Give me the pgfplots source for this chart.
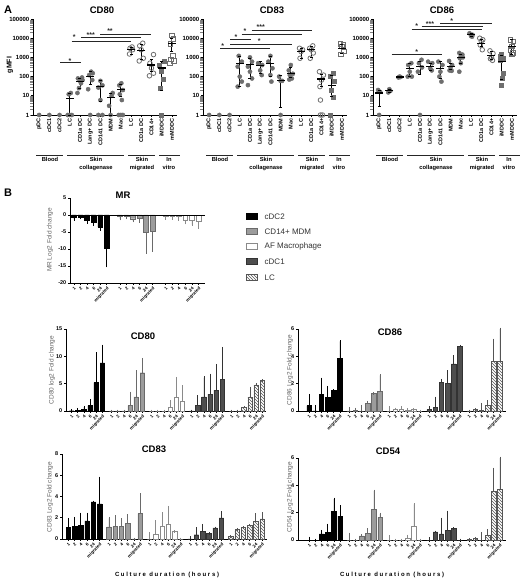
\documentclass[border=0pt]{standalone}
\usepackage{fontspec}
\setmainfont{Liberation Sans}
\usepackage{pgfplots}
\pgfplotsset{compat=1.18}
\usepackage{pgfplotstable}
\usetikzlibrary{patterns}

\definecolor{ptgray}{HTML}{6E6E6E}
\definecolor{mdmfill}{HTML}{9C9C9C}
\definecolor{mdmdraw}{HTML}{6A6A6A}
\definecolor{afdraw}{HTML}{8A8A8A}
\definecolor{cdconefill}{HTML}{4E4E4E}
\definecolor{lcdraw}{HTML}{555555}

\newcommand{\fTitle}{\fontsize{9.5}{11}\selectfont\bfseries}
\newcommand{\fCat}{\fontsize{5.5}{6}\selectfont\bfseries}
\newcommand{\fAy}{\fontsize{6}{7}\selectfont\bfseries}
\newcommand{\fGrp}{\fontsize{5.8}{8}\selectfont\bfseries}
\newcommand{\fBx}{\fontsize{4.4}{5}\selectfont\bfseries}
\newcommand{\fBy}{\fontsize{5.5}{6}\selectfont\bfseries}
\newcommand{\fYl}{\fontsize{6.5}{7}\selectfont}
\newcommand{\fLeg}{\fontsize{8}{9}\selectfont}
\newcommand{\fStar}{\fontsize{7}{8}\selectfont\bfseries}

% ---------- Panel A: mean per category ----------
\pgfplotstableread{
x m lo hi
3 7.4 1 13
4 54 25 85
5 100 40 180
6 30 5 60
7 8 1 14
8 22 9 40
9 2500 1500 3500
10 2200 800 5000
11 400 180 800
12 280 18 620
13 5500 2000 10000
}\meanAeighty

\pgfplotstableread{
x m lo hi
3 490 30 1100
4 450 80 850
5 380 140 650
6 500 100 1100
7 60 2.5 110
8 150 90 300
9 2000 900 3000
10 2500 1000 3800
11 75 30 130
12 36 9 120
13 3000 1700 5000
}\meanAeightythree

\pgfplotstableread{
x m lo hi
0 14 2.7 20
1 18 15 22
2 95 90 100
3 270 100 480
4 330 130 600
5 330 220 500
6 270 80 600
7 350 230 500
8 1000 500 1500
9 15000 12000 18000
10 5400 3700 9000
11 1200 750 2000
12 600 70 1300
13 3700 1400 8800
}\meanAeightysix

% ---------- Panel B: bar value v and error end t per group ----------
\pgfplotstableread{
i v0 t0 v1 t1 v2 t2
0 -0.6 -1.3 -0.3 -1.2 -0.3 -1.0
1 -0.6 -0.9 -0.3 -0.9 -0.3 -1.0
2 -1.6 -2.2 -1.1 -1.8 -0.5 -1.3
3 -2.2 -2.9 -0.9 -1.9 -1.4 -2.4
4 -3.5 -4.3 -5.0 -11.0 -1.6 -2.8
5 -9.8 -15.0 -4.8 -10.5 -1.8 -3.7
}\tMR

\pgfplotstableread{
i v0 t0 v1 t1 v2 t2 v3 t3 v4 t4
0 0.05 0.05 0 0 0 0 0 0 0 0
1 0.15 0.35 0 0 0 0 1.0 2.6 0 0
2 0.3 0.7 0 0 0 0 2.6 6.1 0.7 0.7
3 1.0 2.0 1.0 3.3 0.7 1.8 3.1 6.6 2.6 4.2
4 5.2 10.5 2.6 7.2 2.6 6.0 3.8 8.4 4.8 4.8
5 8.8 11.9 7.0 9.5 1.8 4.5 5.8 11.5 5.6 5.6
}\tBeighty

\pgfplotstableread{
i v0 t0 v1 t1 v2 t2 v3 t3 v4 t4
0 0.4 1.15 0 0.2 0 0.25 0.1 0.25 0 0
1 0 0.35 0.05 0.15 0.1 0.15 0.25 0.95 0.1 0.1
2 1.2 2.35 0 0.35 0.1 0.25 2.1 2.25 0.05 0.5
3 1.0 1.75 0.55 0.65 0.05 0.1 2.0 2.9 0.4 0.7
4 1.5 1.5 1.3 1.3 0.12 0.12 3.45 4.0 3.65 5.2
5 3.85 5.1 1.45 2.6 0 0 4.75 4.75 3.65 6.0
}\tBeightysix

\pgfplotstableread{
i v0 t0 v1 t1 v2 t2 v3 t3 v4 t4
0 1.1 1.85 1.15 1.95 0 0.5 0 0.15 0.25 0.25
1 1.2 1.95 1.2 2.1 0.45 1.65 0.4 1.0 0.9 0.9
2 1.3 2.35 1.2 1.85 1.2 2.4 0.7 1.3 1.1 1.1
3 1.7 2.35 1.5 2.2 1.4 3.0 0.5 0.5 1.3 1.3
4 3.5 3.5 0 0 0.7 0.7 1.05 1.05 1.65 2.3
5 3.3 5.75 2.4 4.2 0 0 2.0 2.5 1.9 2.4
}\tBeightythree

\pgfplotstableread{
i v0 t0 v1 t1 v2 t2 v3 t3 v4 t4
0 0 0.15 0 0.45 0 0.25 0 0.1 0.05 0.05
1 0 0 0 0 0 0 0.6 0.6 0.1 0.1
2 0.45 0.65 0.3 0.35 0 0 0.45 1.55 0 0.5
3 0.55 1.1 0.5 0.75 0.1 0.3 0.7 2.05 0.35 0.7
4 2.1 3.0 2.25 3.6 1.0 2.6 0.85 0.85 3.6 5.2
5 1.75 2.45 1.65 1.9 0 0 0 0 3.7 6.0
}\tBfiftyfour

\pgfplotsset{
  myFC/.style={only marks, mark=*, mark size=2.1pt, mark options={fill=ptgray, draw=ptgray}},
  myOC/.style={only marks, mark=o, mark size=2.3pt, mark options={draw=ptgray, line width=0.8pt, fill=white}},
  myFS/.style={only marks, mark=square*, mark size=2pt, mark options={fill=ptgray, draw=ptgray}},
  myOS/.style={only marks, mark=square, mark size=2.2pt, mark options={draw=ptgray, line width=0.8pt}},
  myBar/.style={ybar, bar width=0.72, bar shift=0pt, line width=0.4pt,
    error bars/y explicit,
    error bars/error bar style={line width=0.6pt, #1},
    error bars/error mark options={mark size=1.3pt, line width=0.6pt, #1}},
  barCdcTwo/.style={myBar=black, fill=black, draw=black},
  barMdm/.style={myBar=mdmdraw, fill=mdmfill, draw=mdmdraw},
  barAf/.style={myBar=afdraw, fill=white, draw=afdraw},
  barCdcOne/.style={myBar=black!80, fill=cdconefill, draw=black!80},
  barLc/.style={myBar=lcdraw, pattern=north west lines, pattern color=lcdraw, draw=lcdraw},
}

\tikzset{grplab/.style={anchor=north, align=center, font=\fGrp, inner sep=0pt}}

\newcommand{\groupsA}[1]{%
  \begin{scope}[xshift=#1pt]
  \draw[black!85, line width=0.5pt] (36,424) -- (63,424);
  \draw[black!85, line width=0.5pt] (67,424) -- (124,424);
  \draw[black!85, line width=0.5pt] (128,424) -- (155,424);
  \draw[black!85, line width=0.5pt] (159,424) -- (180,424);
  \node[grplab] at (50,421.5) {Blood};
  \node[grplab] at (96,421.5) {Skin\\collagenase};
  \node[grplab] at (142,421.5) {Skin\\migrated};
  \node[grplab] at (169,421.5) {In\\vitro};
  \end{scope}
}

\newcommand{\sig}[6]{%
  \draw[black!85, line width=0.6pt] (#1,579-#3) -- (#2,579-#3);
  \node[anchor=base, font=\fStar, inner sep=0pt, text=black!85] at (#4,575-#5) {#6};
}

\begin{document}
\begin{tikzpicture}
\path[use as bounding box] (0,0) rectangle (521pt,579pt);

% ===================== Panel A : CD80 =====================
\begin{axis}[scale only axis, anchor=south west, at={(33pt,464pt)}, width=144pt, height=96pt,
  axis lines*=left, tick align=outside, clip=false,
  axis line style={line width=0.6pt}, major tick style={line width=0.6pt, black}, major tick length=2pt,
  ymode=log, ymin=1, ymax=100000, xmin=-0.6, xmax=13.5,
  ytick={1,10,100,1000,10000,100000}, yticklabels={1,10,100,1000,10000,100000},
  minor ytick={},
  xtick={0,1,2,3,4,5,6,7,8,9,10,11,12,13},
  xticklabels={pDC,cDC1,cDC2,LC,CD1a DC,Lang+ DC,CD141 DC,MDM,Mac,LC,CD1a DC,CD14+,iMDDC,mMDDC},
  x tick label style={rotate=90, anchor=east, font=\fCat, inner sep=1.5pt},
  y tick label style={font=\fAy, inner sep=1.5pt}]
\addplot[myFC] coordinates {(0,1) (1,1) (2,1)
 (2.8,1) (3,1) (3.2,1) (2.9,12) (3.1,14)
 (3.75,14) (3.9,25) (4.1,45) (4.25,66) (3.8,80) (4.0,60) (4.2,90)
 (5,1) (4.8,22) (5.2,66) (4.9,120) (5.1,180) (5.25,150)
 (5.8,1) (6.2,1) (6,6) (5.8,27) (6.2,35) (6,60)
 (7,1) (6.85,3) (7.1,10) (7.2,14)
 (7.8,1) (8,1) (8.2,1) (8.1,6) (7.9,12) (8.2,20) (7.85,35) (8.05,45)};
\addplot[myOC] coordinates {(8.85,1500) (9.15,2500) (8.9,3000) (9.1,3500)
 (9.8,650) (10.2,900) (10,2500) (9.85,4000) (10.15,5500)
 (10.8,110) (11.2,150) (11,280) (10.85,500) (11.2,1400)};
\addplot[myFS] coordinates {(12,1) (11.85,25) (12.15,70) (12,200) (11.8,400) (12.2,600)};
\addplot[myOS] coordinates {(12.8,500) (13.2,650) (12.9,800) (13.1,1200) (12.85,5000) (13.15,9000) (13,14000)};
\addplot[black, line width=0.8pt, unbounded coords=jump] coordinates {(3,1) (3,13) (3,nan) (4,25) (4,85) (4,nan) (5,40) (5,180) (5,nan) (6,5) (6,60) (6,nan) (7,1) (7,14) (7,nan) (8,9) (8,40) (8,nan) (9,1500) (9,3500) (9,nan) (10,800) (10,5000) (10,nan) (11,180) (11,800) (11,nan) (12,18) (12,620) (12,nan) (13,2000) (13,10000)};
\addplot[only marks, mark=-, mark size=1.5pt, mark options={line width=0.8pt, black}] table[x=x, y=lo] \meanAeighty;
\addplot[only marks, mark=-, mark size=1.5pt, mark options={line width=0.8pt, black}] table[x=x, y=hi] \meanAeighty;
\addplot[only marks, mark=-, mark size=4pt, mark options={line width=1.1pt, black}] table[x=x, y=m] \meanAeighty;
\end{axis}

% ===================== Panel A : CD83 =====================
\begin{axis}[scale only axis, anchor=south west, at={(203pt,464pt)}, width=144pt, height=96pt,
  axis lines*=left, tick align=outside, clip=false,
  axis line style={line width=0.6pt}, major tick style={line width=0.6pt, black}, major tick length=2pt,
  ymode=log, ymin=1, ymax=100000, xmin=-0.6, xmax=13.5,
  ytick={1,10,100,1000,10000,100000}, yticklabels={1,10,100,1000,10000,100000},
  minor ytick={},
  xtick={0,1,2,3,4,5,6,7,8,9,10,11,12,13},
  xticklabels={pDC,cDC1,cDC2,LC,CD1a DC,Lang+ DC,CD141 DC,MDM,Mac,LC,CD1a DC,CD14+,iMDDC,mMDDC},
  x tick label style={rotate=90, anchor=east, font=\fCat, inner sep=1.5pt},
  y tick label style={font=\fAy, inner sep=1.5pt}]
\addplot[myFC] coordinates {(0,1) (1,1) (2,1)
 (2.8,30) (3.2,55) (3,100) (2.8,330) (3.2,600) (2.9,1200)
 (3.8,36) (4.2,80) (4,180) (3.8,330) (4.2,600) (4,1000)
 (4.8,500) (5.2,400) (5,210) (5.15,120)
 (6,1200) (5.8,600) (6.2,270) (6,120) (6.1,55)
 (6.85,100) (7,60) (7.15,60) (7,1)
 (8,400) (7.8,210) (8.2,140) (7.9,120) (8.1,80) (7.85,70)};
\addplot[myOC] coordinates {(8.85,3000) (9.15,2500) (9,2000) (8.9,900)
 (10.15,4000) (9.85,3000) (10,2500) (10.2,1700) (9.9,900)
 (10.8,180) (11.2,120) (11,66) (10.85,30) (10.9,6) (10.9,1) (11.1,1)};
\addplot[myFS] coordinates {(12.15,150) (11.85,100) (12.2,55) (12,20) (12.1,8) (11.9,1)};
\addplot[myOS] coordinates {(12.85,5000) (13.15,4400) (13,3700) (13.2,2000) (12.9,1400)};
\addplot[black, line width=0.8pt, unbounded coords=jump] coordinates {(3,30) (3,1100) (3,nan) (4,80) (4,850) (4,nan) (5,140) (5,650) (5,nan) (6,100) (6,1100) (6,nan) (7,2.5) (7,110) (7,nan) (8,90) (8,300) (8,nan) (9,900) (9,3000) (9,nan) (10,1000) (10,3800) (10,nan) (11,30) (11,130) (11,nan) (12,9) (12,120) (12,nan) (13,1700) (13,5000)};
\addplot[only marks, mark=-, mark size=1.5pt, mark options={line width=0.8pt, black}] table[x=x, y=lo] \meanAeightythree;
\addplot[only marks, mark=-, mark size=1.5pt, mark options={line width=0.8pt, black}] table[x=x, y=hi] \meanAeightythree;
\addplot[only marks, mark=-, mark size=4pt, mark options={line width=1.1pt, black}] table[x=x, y=m] \meanAeightythree;
\end{axis}

% ===================== Panel A : CD86 =====================
\begin{axis}[scale only axis, anchor=south west, at={(373pt,464pt)}, width=144pt, height=96pt,
  axis lines*=left, tick align=outside, clip=false,
  axis line style={line width=0.6pt}, major tick style={line width=0.6pt, black}, major tick length=2pt,
  ymode=log, ymin=1, ymax=100000, xmin=-0.6, xmax=13.5,
  ytick={1,10,100,1000,10000,100000}, yticklabels={1,10,100,1000,10000,100000},
  minor ytick={},
  xtick={0,1,2,3,4,5,6,7,8,9,10,11,12,13},
  xticklabels={pDC,cDC1,cDC2,LC,CD1a DC,Lang+ DC,CD141 DC,MDM,Mac,LC,CD1a DC,CD14+,iMDDC,mMDDC},
  x tick label style={rotate=90, anchor=east, font=\fCat, inner sep=1.5pt},
  y tick label style={font=\fAy, inner sep=1.5pt}]
\addplot[myFC] coordinates {(0,1) (-0.1,20) (0.1,16)
 (0.9,15) (1.1,18) (1,22)
 (1.9,90) (2.1,95) (2,100)
 (2.8,100) (3.2,100) (3,180) (2.85,400) (3.15,500)
 (4,1) (3.8,180) (4.2,300) (3.9,500) (4.15,750)
 (4.8,600) (5.2,500) (5,270) (5.15,210)
 (5.8,600) (6.2,400) (6,180) (5.9,100) (6.1,55)
 (6.85,650) (7.15,400) (7,300) (6.9,210) (7.1,200)
 (7.85,1700) (8.15,1400) (8,1200) (7.9,900) (8.2,1000) (8,500) (7.85,180)
 (8.85,18000) (9.15,15000) (9,13000) (9.1,12000)};
\addplot[myOC] coordinates {(9.85,10000) (10.15,8300) (10,6900) (9.9,4400) (10.1,2500)
 (10.85,2200) (11.15,1600) (11,1000) (10.9,850) (11.1,700)};
\addplot[myFS] coordinates {(12,1400) (11.85,1200) (12.15,900) (11.9,700) (12.1,150) (12.05,80) (11.95,35)};
\addplot[myOS] coordinates {(12.85,8000) (13.15,7000) (13,3700) (12.9,2500) (13.1,1700) (13,1400)};
\addplot[black, line width=0.8pt, unbounded coords=jump] coordinates {(0,2.7) (0,20) (0,nan) (1,15) (1,22) (1,nan) (2,90) (2,100) (2,nan) (3,100) (3,480) (3,nan) (4,130) (4,600) (4,nan) (5,220) (5,500) (5,nan) (6,80) (6,600) (6,nan) (7,230) (7,500) (7,nan) (8,500) (8,1500) (8,nan) (9,12000) (9,18000) (9,nan) (10,3700) (10,9000) (10,nan) (11,750) (11,2000) (11,nan) (12,70) (12,1300) (12,nan) (13,1400) (13,8800)};
\addplot[only marks, mark=-, mark size=1.5pt, mark options={line width=0.8pt, black}] table[x=x, y=lo] \meanAeightysix;
\addplot[only marks, mark=-, mark size=1.5pt, mark options={line width=0.8pt, black}] table[x=x, y=hi] \meanAeightysix;
\addplot[only marks, mark=-, mark size=4pt, mark options={line width=1.1pt, black}] table[x=x, y=m] \meanAeightysix;
\end{axis}

% ===================== Panel B : MR =====================
\begin{axis}[scale only axis, anchor=south west, at={(70pt,296pt)}, width=135pt, height=85pt,
  axis lines*=left, tick align=outside, clip=false,
  axis line style={line width=0.6pt}, major tick style={line width=0.6pt, black}, major tick length=2pt,
  xmin=-0.6, xmax=20, ymin=-20, ymax=5,
  ytick={-20,-15,-10,-5,0,5}, yticklabels={-20,-15,-10,-5,0,5},
  x tick label style={rotate=45, anchor=north east, font=\fBx, inner sep=1pt},
  y tick label style={font=\fBy, inner sep=1.5pt},
  xtick={0,1,2,3,4,5,7,8,9,10,11,12,14,15,16,17,18,19},
  xticklabels={1,2,4,6,24,migrated,1,2,4,6,24,migrated,1,2,4,6,24,migrated}]
\addplot[barCdcTwo, error bars/y dir=minus] table[x expr=\thisrow{i}, y=v0, y error expr=\thisrow{v0}-\thisrow{t0}] \tMR;
\addplot[barMdm, error bars/y dir=minus] table[x expr=\thisrow{i}+7, y=v1, y error expr=\thisrow{v1}-\thisrow{t1}] \tMR;
\addplot[barAf, error bars/y dir=minus] table[x expr=\thisrow{i}+14, y=v2, y error expr=\thisrow{v2}-\thisrow{t2}] \tMR;
\draw[black, line width=0.6pt] (axis cs:-0.9,0) -- (axis cs:20,0);
\end{axis}

% ===================== Panel B : CD80 =====================
\begin{axis}[scale only axis, anchor=south west, at={(66pt,168pt)}, width=200pt, height=82pt,
  axis lines*=left, tick align=outside, clip=false,
  axis line style={line width=0.6pt}, major tick style={line width=0.6pt, black}, major tick length=2pt,
  xmin=-0.9, xmax=31.6, ymin=0, ymax=15, ytick={0,5,10,15}, yticklabels={0,5,10,15},
  x tick label style={rotate=45, anchor=north east, font=\fBx, inner sep=1pt},
  y tick label style={font=\fBy, inner sep=1.5pt},
  xtick={0,1,2,3,4,5,6.5,7.5,8.5,9.5,10.5,11.5,13,14,15,16,17,18,19.5,20.5,21.5,22.5,23.5,24.5,26,27,28,29,30,31},
  xticklabels={1,2,4,6,24,migrated,1,2,4,6,24,migrated,1,2,4,6,24,migrated,1,2,4,6,24,migrated,1,2,4,6,24,migrated}]
\addplot[barCdcTwo, error bars/y dir=plus] table[x expr=\thisrow{i}, y=v0, y error expr=\thisrow{t0}-\thisrow{v0}] \tBeighty;
\addplot[barMdm, error bars/y dir=plus] table[x expr=\thisrow{i}+6.5, y=v1, y error expr=\thisrow{t1}-\thisrow{v1}] \tBeighty;
\addplot[barAf, error bars/y dir=plus] table[x expr=\thisrow{i}+13, y=v2, y error expr=\thisrow{t2}-\thisrow{v2}] \tBeighty;
\addplot[barCdcOne, error bars/y dir=plus] table[x expr=\thisrow{i}+19.5, y=v3, y error expr=\thisrow{t3}-\thisrow{v3}] \tBeighty;
\addplot[barLc, error bars/y dir=plus] table[x expr=\thisrow{i}+26, y=v4, y error expr=\thisrow{t4}-\thisrow{v4}] \tBeighty;
\end{axis}

% ===================== Panel B : CD86 =====================
\begin{axis}[scale only axis, anchor=south west, at={(298pt,168pt)}, width=208pt, height=82pt,
  axis lines*=left, tick align=outside, clip=false,
  axis line style={line width=0.6pt}, major tick style={line width=0.6pt, black}, major tick length=2pt,
  xmin=-1.8, xmax=32, ymin=0, ymax=6, ytick={0,2,4,6}, yticklabels={0,2,4,6},
  x tick label style={rotate=45, anchor=north east, font=\fBx, inner sep=1pt},
  y tick label style={font=\fBy, inner sep=1.5pt},
  xtick={0,1,2,3,4,5,6.5,7.5,8.5,9.5,10.5,11.5,13,14,15,16,17,18,19.5,20.5,21.5,22.5,23.5,24.5,26,27,28,29,30,31},
  xticklabels={1,2,4,6,24,migrated,1,2,4,6,24,migrated,1,2,4,6,24,migrated,1,2,4,6,24,migrated,1,2,4,6,24,migrated}]
\addplot[barCdcTwo, error bars/y dir=plus] table[x expr=\thisrow{i}, y=v0, y error expr=\thisrow{t0}-\thisrow{v0}] \tBeightysix;
\addplot[barMdm, error bars/y dir=plus] table[x expr=\thisrow{i}+6.5, y=v1, y error expr=\thisrow{t1}-\thisrow{v1}] \tBeightysix;
\addplot[barAf, error bars/y dir=plus] table[x expr=\thisrow{i}+13, y=v2, y error expr=\thisrow{t2}-\thisrow{v2}] \tBeightysix;
\addplot[barCdcOne, error bars/y dir=plus] table[x expr=\thisrow{i}+19.5, y=v3, y error expr=\thisrow{t3}-\thisrow{v3}] \tBeightysix;
\addplot[barLc, error bars/y dir=plus] table[x expr=\thisrow{i}+26, y=v4, y error expr=\thisrow{t4}-\thisrow{v4}] \tBeightysix;
\end{axis}

% ===================== Panel B : CD83 =====================
\begin{axis}[scale only axis, anchor=south west, at={(62pt,40pt)}, width=205pt, height=85pt,
  axis lines*=left, tick align=outside, clip=false,
  axis line style={line width=0.6pt}, major tick style={line width=0.6pt, black}, major tick length=2pt,
  xmin=-1, xmax=31.8, ymin=0, ymax=8, ytick={0,2,4,6,8}, yticklabels={0,2,4,6,8},
  x tick label style={rotate=45, anchor=north east, font=\fBx, inner sep=1pt},
  y tick label style={font=\fBy, inner sep=1.5pt},
  xtick={0,1,2,3,4,5,6.5,7.5,8.5,9.5,10.5,11.5,13,14,15,16,17,18,19.5,20.5,21.5,22.5,23.5,24.5,26,27,28,29,30,31},
  xticklabels={1,2,4,6,24,migrated,1,2,4,6,24,migrated,1,2,4,6,24,migrated,1,2,4,6,24,migrated,1,2,4,6,24,migrated}]
\addplot[barCdcTwo, error bars/y dir=plus] table[x expr=\thisrow{i}, y=v0, y error expr=\thisrow{t0}-\thisrow{v0}] \tBeightythree;
\addplot[barMdm, error bars/y dir=plus] table[x expr=\thisrow{i}+6.5, y=v1, y error expr=\thisrow{t1}-\thisrow{v1}] \tBeightythree;
\addplot[barAf, error bars/y dir=plus] table[x expr=\thisrow{i}+13, y=v2, y error expr=\thisrow{t2}-\thisrow{v2}] \tBeightythree;
\addplot[barCdcOne, error bars/y dir=plus] table[x expr=\thisrow{i}+19.5, y=v3, y error expr=\thisrow{t3}-\thisrow{v3}] \tBeightythree;
\addplot[barLc, error bars/y dir=plus] table[x expr=\thisrow{i}+26, y=v4, y error expr=\thisrow{t4}-\thisrow{v4}] \tBeightythree;
\end{axis}

% ===================== Panel B : CD54 =====================
\begin{axis}[scale only axis, anchor=south west, at={(298pt,39pt)}, width=208pt, height=82pt,
  axis lines*=left, tick align=outside, clip=false,
  axis line style={line width=0.6pt}, major tick style={line width=0.6pt, black}, major tick length=2pt,
  xmin=-1.84, xmax=32, ymin=0, ymax=6, ytick={0,2,4,6}, yticklabels={0,2,4,6},
  x tick label style={rotate=45, anchor=north east, font=\fBx, inner sep=1pt},
  y tick label style={font=\fBy, inner sep=1.5pt},
  xtick={0,1,2,3,4,5,6.5,7.5,8.5,9.5,10.5,11.5,13,14,15,16,17,18,19.5,20.5,21.5,22.5,23.5,24.5,26,27,28,29,30,31},
  xticklabels={1,2,4,6,24,migrated,1,2,4,6,24,migrated,1,2,4,6,24,migrated,1,2,4,6,24,migrated,1,2,4,6,24,migrated}]
\addplot[barCdcTwo, error bars/y dir=plus] table[x expr=\thisrow{i}, y=v0, y error expr=\thisrow{t0}-\thisrow{v0}] \tBfiftyfour;
\addplot[barMdm, error bars/y dir=plus] table[x expr=\thisrow{i}+6.5, y=v1, y error expr=\thisrow{t1}-\thisrow{v1}] \tBfiftyfour;
\addplot[barAf, error bars/y dir=plus] table[x expr=\thisrow{i}+13, y=v2, y error expr=\thisrow{t2}-\thisrow{v2}] \tBfiftyfour;
\addplot[barCdcOne, error bars/y dir=plus] table[x expr=\thisrow{i}+19.5, y=v3, y error expr=\thisrow{t3}-\thisrow{v3}] \tBfiftyfour;
\addplot[barLc, error bars/y dir=plus] table[x expr=\thisrow{i}+26, y=v4, y error expr=\thisrow{t4}-\thisrow{v4}] \tBfiftyfour;
\end{axis}

% ===================== annotations =====================
\begin{scope}[x=1pt,y=1pt]
\groupsA{0}
\groupsA{170}
\groupsA{340}
\node[font=\fontsize{11}{12}\selectfont\bfseries, inner sep=0pt] at (8,569) {A};
\node[font=\fontsize{11}{12}\selectfont\bfseries, inner sep=0pt] at (8,386) {B};
\node[font=\fTitle, inner sep=0pt] at (102,569) {CD80};
\node[font=\fTitle, inner sep=0pt] at (272,569) {CD83};
\node[font=\fTitle, inner sep=0pt] at (442,569) {CD86};
\node[font=\fTitle, inner sep=0pt] at (123,384) {MR};
\node[font=\fTitle, inner sep=0pt] at (143,243) {CD80};
\node[font=\fTitle, inner sep=0pt] at (390,247) {CD86};
\node[font=\fTitle, inner sep=0pt] at (154,130) {CD83};
\node[font=\fTitle, inner sep=0pt] at (388,128) {CD54};
\node[font=\fontsize{7}{8}\selectfont\bfseries, rotate=90, inner sep=0pt] at (10,514) {gMFI};
\sig{60}{81}{62.7}{70}{59.3}{*}
\sig{71.7}{131}{41}{74.3}{35.7}{*}
\sig{81}{141}{37.3}{90.7}{33.3}{***}
\sig{100}{151}{34.3}{110}{30}{**}
\sig{251.7}{311.7}{30.7}{260.7}{26}{***}
\sig{241.7}{301.7}{34}{245}{29.7}{*}
\sig{230}{250.7}{39.3}{236}{35.7}{*}
\sig{230}{291.7}{44.3}{259.3}{40}{*}
\sig{220}{270}{48.7}{222.7}{44.3}{*}
\sig{411.7}{481.7}{29.3}{416.7}{25}{*}
\sig{421.7}{483.3}{26.7}{430}{22.7}{***}
\sig{440}{491.7}{23.3}{451.7}{19.3}{*}
\sig{391.7}{441.7}{54.3}{416.7}{51}{*}
\node[font=\fYl, text=black!60, rotate=90, inner sep=0pt] at (50,339) {MR Log2 Fold change};
\node[font=\fYl, text=black!60, rotate=90, inner sep=0pt] at (52,209) {CD80 log2 Fold change};
\node[font=\fYl, text=black!60, rotate=90, inner sep=0pt] at (290,209) {CD86 Log2 Fold change};
\node[font=\fYl, text=black!60, rotate=90, inner sep=0pt] at (50,82) {CD83 Log2 Fold change};
\node[font=\fYl, text=black!60, rotate=90, inner sep=0pt] at (290,82) {CD54 Log2 Fold change};
\node[font=\fontsize{6}{7}\selectfont\bfseries, inner sep=0pt] at (167,4) {C u l t u r e~~d u r a t i o n~~( h o u r s )};
\node[font=\fontsize{6}{7}\selectfont\bfseries, inner sep=0pt] at (392,4) {C u l t u r e~~d u r a t i o n~~( h o u r s )};
\draw[fill=black, draw=black] (246.5,359.3) rectangle (257.5,365.3);
\node[anchor=west, font=\fLeg, text=black!80, inner sep=0pt] at (264.5,362.3) {cDC2};
\draw[fill=mdmfill, draw=mdmdraw] (246.5,344.3) rectangle (257.5,350.3);
\node[anchor=west, font=\fLeg, text=black!80, inner sep=0pt] at (264.5,347.3) {CD14+ MDM};
\draw[fill=white, draw=afdraw] (246.5,329.3) rectangle (257.5,335.3);
\node[anchor=west, font=\fLeg, text=black!80, inner sep=0pt] at (264.5,332.3) {AF Macrophage};
\draw[fill=cdconefill, draw=black!80] (246.5,314.3) rectangle (257.5,320.3);
\node[anchor=west, font=\fLeg, text=black!80, inner sep=0pt] at (264.5,317.3) {cDC1};
\draw[pattern=north west lines, pattern color=lcdraw, draw=lcdraw] (246.5,298.7) rectangle (257.5,304.7);
\node[anchor=west, font=\fLeg, text=black!80, inner sep=0pt] at (264.5,301.7) {LC};
\end{scope}
\end{tikzpicture}
\end{document}
